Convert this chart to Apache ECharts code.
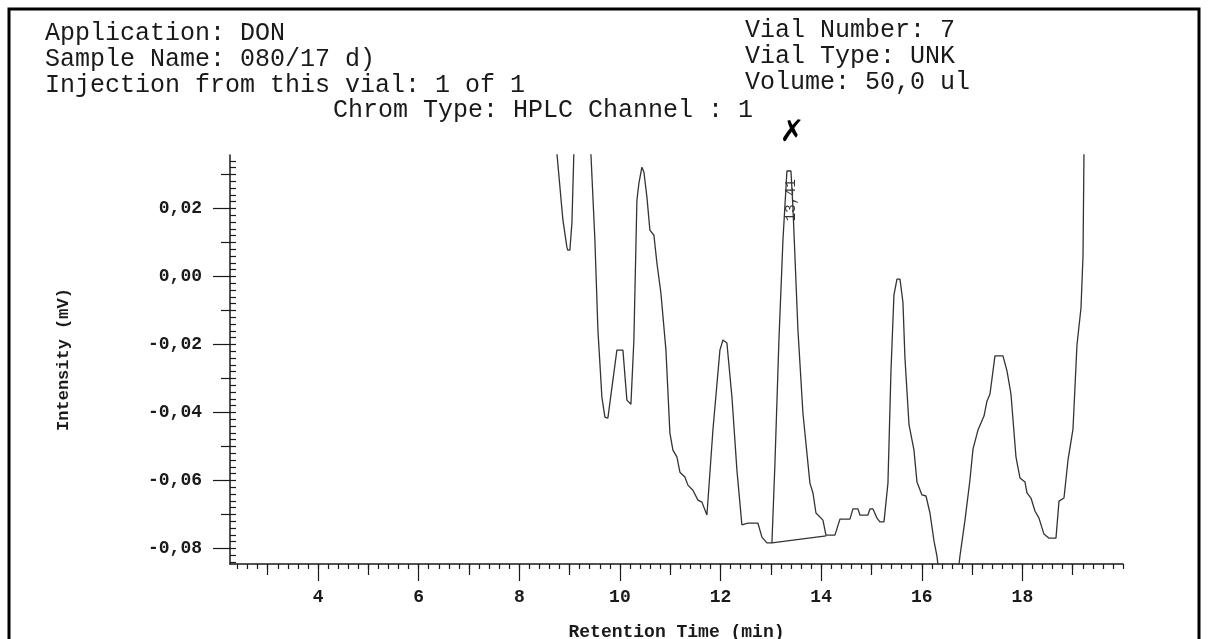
<!DOCTYPE html>
<html>
<head>
<meta charset="utf-8">
<script src="https://cdn.jsdelivr.net/npm/echarts@6/dist/echarts.min.js"></script>
<style>
  html, body { margin: 0; padding: 0; background: #fff; }
  #chart { width: 1208px; height: 639px; }
</style>
</head>
<body>
<div id="chart"></div>
<script>
// retention time (min) and detector signal (mV)
const times = [
  8.727, 8.747, 8.867, 8.946, 8.966, 9.006, 9.046, 9.085, 9.105, 9.404,
  9.423, 9.503, 9.563, 9.642, 9.702, 9.761, 9.940, 10.060, 10.139, 10.219,
  10.278, 10.338, 10.378, 10.437, 10.477, 10.537, 10.596, 10.676, 10.736, 10.815,
  10.915, 10.994, 11.054, 11.133, 11.193, 11.292, 11.352, 11.451, 11.551, 11.630,
  11.730, 11.849, 11.988, 12.048, 12.127, 12.227, 12.326, 12.425, 12.545, 12.744,
  12.823, 12.922, 13.022, 13.082, 13.161, 13.241, 13.320, 13.400, 13.439, 13.539,
  13.638, 13.777, 13.837, 13.897, 14.036, 14.095, 14.274, 14.374, 14.573, 14.632,
  14.732, 14.771, 14.930, 14.970, 15.030, 15.109, 15.169, 15.249, 15.328, 15.388,
  15.447, 15.507, 15.567, 15.626, 15.666, 15.746, 15.845, 15.905, 16.004, 16.084,
  16.163, 16.243, 16.302, 16.400, 16.660, 16.759, 16.859, 16.958, 17.018, 17.117,
  17.177, 17.237, 17.296, 17.356, 17.455, 17.614, 17.694, 17.773, 17.873, 17.952,
  18.052, 18.091, 18.171, 18.250, 18.330, 18.429, 18.529, 18.668, 18.728, 18.827,
  18.907, 19.006, 19.085, 19.165, 19.205, 19.225, 19.245
];
const intensities = [
  0.0400, 0.0363, 0.0166, 0.0086, 0.0077, 0.0077, 0.0157, 0.0363, 0.0400, 0.0400,
  0.0363, 0.0107, -0.0158, -0.0355, -0.0414, -0.0417, -0.0217, -0.0217, -0.0364, -0.0376,
  -0.0187, 0.0224, 0.0274, 0.0321, 0.0307, 0.0233, 0.0136, 0.0121, 0.0039, -0.0049,
  -0.0217, -0.0461, -0.0511, -0.0531, -0.0576, -0.0590, -0.0614, -0.0629, -0.0658, -0.0664,
  -0.0702, -0.0452, -0.0217, -0.0187, -0.0196, -0.0355, -0.0570, -0.0731, -0.0726, -0.0726,
  -0.0767, -0.0784, -0.0784, -0.0549, -0.0187, 0.0107, 0.0310, 0.0310, 0.0204, -0.0158,
  -0.0402, -0.0608, -0.0637, -0.0696, -0.0717, -0.0761, -0.0761, -0.0714, -0.0714, -0.0684,
  -0.0684, -0.0702, -0.0702, -0.0684, -0.0684, -0.0711, -0.0722, -0.0722, -0.0608, -0.0278,
  -0.0055, -0.0008, -0.0008, -0.0076, -0.0240, -0.0435, -0.0511, -0.0605, -0.0643, -0.0646,
  -0.0696, -0.0778, -0.0823, -0.0950, -0.0950, -0.0823, -0.0717, -0.0599, -0.0508, -0.0452,
  -0.0431, -0.0411, -0.0367, -0.0346, -0.0234, -0.0234, -0.0278, -0.0346, -0.0532, -0.0593,
  -0.0605, -0.0637, -0.0652, -0.0690, -0.0711, -0.0758, -0.0770, -0.0770, -0.0661, -0.0652,
  -0.0540, -0.0449, -0.0202, -0.0093, 0.0060, 0.0372, 0.0430
];

// integration baseline under the 13,41 peak
const baselineTimes = [13.022, 14.1];
const baselineValues = [-0.0784, -0.0763];

const peakTime = 13.41;
const peakLabel = "13,41";

const xTickLabels = [4, 6, 8, 10, 12, 14, 16, 18];
const yTickLabels = [-0.08, -0.06, -0.04, -0.02, 0, 0.02];

const xMin = 2.25, xMax = 20;
const yMin = -0.0846, yMax = 0.0357;

// 1 min and 0.2 min ticks on x, 0.01 and 0.002 ticks on y
const xMidTicks = [];
for (let i = 3; i <= 19; i += 2) xMidTicks.push(i);
const xMinorTicks = [];
for (let i = 12; i <= 100; i++) xMinorTicks.push(Math.round(i * 2) / 10);
const yMidTicks = [-0.07, -0.05, -0.03, -0.01, 0.01, 0.03];
const yMinorTicks = [];
for (let i = -42; i <= 17; i++) yMinorTicks.push(Math.round(i * 2) / 1000);

const mono = '"Liberation Mono", "DejaVu Sans Mono", monospace';
const ink = "#1a1a1a";

const chart = echarts.init(document.getElementById("chart"));

const tickStyle = { color: ink, width: 1.2 };

function xAxisLayer(ticks, len, main) {
  return {
    type: "value",
    min: xMin,
    max: xMax,
    position: "bottom",
    axisLine: { show: main, onZero: false, lineStyle: { color: ink, width: 1.5 } },
    axisTick: { customValues: ticks, length: len, lineStyle: tickStyle },
    axisLabel: main
      ? { customValues: xTickLabels, margin: 24, color: ink, fontFamily: mono, fontWeight: "bold", fontSize: 18 }
      : { show: false },
    splitLine: { show: false },
    name: main ? "Retention Time (min)" : "",
    nameLocation: "middle",
    nameGap: 59,
    nameTextStyle: { color: ink, fontFamily: mono, fontWeight: "bold", fontSize: 18 },
  };
}

function yAxisLayer(ticks, len, inside, main) {
  return {
    type: "value",
    min: yMin,
    max: yMax,
    position: "left",
    axisLine: { show: main, onZero: false, lineStyle: { color: ink, width: 1.5 } },
    axisTick: { customValues: ticks, length: len, inside: inside, lineStyle: tickStyle },
    axisLabel: main
      ? {
          customValues: yTickLabels,
          margin: 28,
          color: ink,
          fontFamily: mono,
          fontWeight: "bold",
          fontSize: 18,
          formatter: (v) => v.toFixed(2).replace(".", ","),
        }
      : { show: false },
    splitLine: { show: false },
    name: main ? "Intensity (mV)" : "",
    nameLocation: "middle",
    nameRotate: 90,
    nameGap: 158,
    nameTextStyle: { color: ink, fontFamily: mono, fontWeight: "bold", fontSize: 17 },
  };
}

chart.setOption({
  animation: false,
  backgroundColor: "#fff",
  grid: { left: 230, top: 155, width: 893, height: 409, outerBoundsMode: "none" },

  xAxis: [
    xAxisLayer(xTickLabels, 17, true),
    xAxisLayer(xMidTicks, 11, false),
    xAxisLayer(xMinorTicks, 5, false),
  ],
  yAxis: [
    yAxisLayer(yTickLabels, 17, false, true),
    yAxisLayer(yMidTicks, 9, false, false),
    yAxisLayer(yMinorTicks, 6, true, false),
  ],

  series: [
    {
      type: "line",
      data: times.map((t, i) => [t, intensities[i]]),
      showSymbol: false,
      clip: true,
      lineStyle: { color: "#333", width: 1.3 },
      markPoint: {
        symbol: "circle",
        symbolSize: 0,
        data: [{ coord: [peakTime, 0.0224] }],
        label: {
          show: true,
          formatter: peakLabel,
          rotate: 90,
          color: "#333",
          fontFamily: mono,
          fontSize: 14,
        },
      },
    },
    {
      type: "line",
      data: baselineTimes.map((t, i) => [t, baselineValues[i]]),
      showSymbol: false,
      lineStyle: { color: "#333", width: 1.3 },
    },
  ],

  graphic: [
    {
      type: "rect",
      shape: { x: 9, y: 9, width: 1190, height: 700 },
      style: { fill: "none", stroke: "#000", lineWidth: 3 },
    },
    { type: "text", x: 45, y: 33, style: { text: "Application: DON", font: "25px " + mono, fill: ink, verticalAlign: "middle" } },
    { type: "text", x: 45, y: 59, style: { text: "Sample Name: 080/17 d)", font: "25px " + mono, fill: ink, verticalAlign: "middle" } },
    { type: "text", x: 45, y: 85, style: { text: "Injection from this vial: 1 of 1", font: "25px " + mono, fill: ink, verticalAlign: "middle" } },
    { type: "text", x: 333, y: 110, style: { text: "Chrom Type: HPLC Channel : 1", font: "25px " + mono, fill: ink, verticalAlign: "middle" } },
    { type: "text", x: 745, y: 30, style: { text: "Vial Number: 7", font: "25px " + mono, fill: ink, verticalAlign: "middle" } },
    { type: "text", x: 745, y: 56, style: { text: "Vial Type: UNK", font: "25px " + mono, fill: ink, verticalAlign: "middle" } },
    { type: "text", x: 745, y: 82, style: { text: "Volume: 50,0 ul", font: "25px " + mono, fill: ink, verticalAlign: "middle" } },
    { type: "text", x: 792, y: 133, style: { text: "✗", font: "bold 30px DejaVu Sans", fill: "#000", align: "center", verticalAlign: "middle" } },
  ],
});

window.addEventListener("resize", () => chart.resize());
</script>
</body>
</html>
